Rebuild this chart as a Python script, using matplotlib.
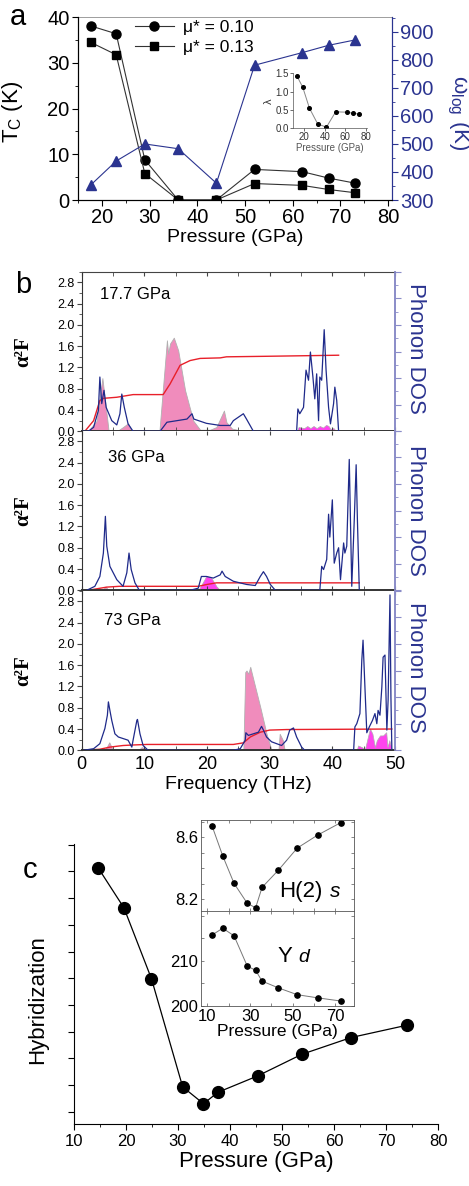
import numpy as np
import matplotlib
matplotlib.use('Agg')
import matplotlib.pyplot as plt
from matplotlib.lines import Line2D
from matplotlib.ticker import MultipleLocator, FormatStrFormatter, NullFormatter

plt.rcParams['font.family'] = ['Liberation Sans', 'DejaVu Sans']
plt.rcParams['mathtext.default'] = 'regular'

# ---------------- data: panel a ----------------
pressure_a = [17.7, 23, 29, 36, 44, 52, 62, 67.5, 73]
tc_mu010 = [38.1, 36.4, 8.8, 0, 0, 6.7, 6.2, 4.8, 3.7]
tc_mu013 = [34.5, 31.8, 5.8, 0, 0, 3.6, 3.2, 2.3, 1.6]
omega_log = [354, 439, 500, 483, 360, 781, 826, 852, 871]
lam_p = [13, 18.5, 25, 33, 41.5, 50.5, 61.5, 67.5, 73]
lam_v = [1.42, 1.12, 0.55, 0.12, 0.03, 0.45, 0.44, 0.41, 0.39]

# ---------------- data: panel b ----------------
dos17_f = [0, 1.06, 1.9, 2.66, 2.9, 3.2, 3.56, 3.9, 4.8, 5.6, 6.1, 6.4, 6.8, 7.4, 8.2, 12.5, 13.6, 15.2,
           16.8, 17.6, 17.9, 19.9, 22.1, 23.7, 24.2, 25.8, 26.3, 27.4, 34.3, 34.5, 34.8, 35.4, 35.8, 36.2,
           36.5, 36.9, 37.2, 37.5, 37.8, 38.0, 38.3, 38.7, 39.0, 39.4, 39.7, 40.2, 40.4, 40.7, 41.0]
dos17_v = [0, 0, 0.075, 0.39, 1.02, 0.52, 0.77, 0.45, 0.2, 0.12, 0.33, 0.7, 0.45, 0.14, 0, 0, 0.17, 0.2,
           0.23, 0.33, 0.23, 0.15, 0.11, 0.11, 0.2, 0.33, 0.23, 0, 0, 0.42, 0.33, 0.45, 1.15, 0.96,
           1.49, 1.02, 0.61, 1.08, 0.2, 1.02, 0.96, 1.91, 1.15, 0.45, 0.14, 0.52, 0.83, 0.58, 0]
pink17_f = [1.0, 2.4, 2.9, 3.3, 3.8, 4.3, 4.8, 5.2, 5.6, 6.6, 7.4, 8.0, 12.4, 13.6, 13.8, 14.1, 14.7,
            15.4, 16.5, 17.8, 18.9, 20.5, 21.5, 22.7, 23.1, 24.0, 26.0]
pink17_v = [0, 0.2, 0.64, 1.0, 0.5, 0, 0.03, 0.02, 0, 0.08, 0.15, 0, 0, 1.71, 1.46, 1.65, 1.76,
            1.52, 0.77, 0.2, 0.03, 0.03, 0.08, 0.39, 0.17, 0.05, 0]
mag17_f = [34.4, 34.6, 35.5, 36.0, 36.5, 37.0, 37.5, 38.0, 38.5, 39.0, 39.4, 39.7, 40.2, 40.6]
mag17_v = [0, 0.08, 0.06, 0.1, 0.06, 0.1, 0.06, 0.1, 0.07, 0.12, 0.1, 0.04, 0.06, 0]
red17_f = [0.5, 1.9, 2.9, 3.5, 5.6, 8.2, 13.0, 14.1, 15.7, 17.3, 18.9, 22.1, 23.1, 29.5, 41.0]
red17_v = [0, 0.2, 0.58, 0.62, 0.64, 0.69, 0.69, 0.89, 1.24, 1.33, 1.37, 1.38, 1.4, 1.41, 1.43]

dos36_f = [0.8, 2.1, 2.9, 3.46, 3.78, 4.0, 4.5, 5.6, 6.6, 7.2, 7.55, 7.9, 8.5, 9.2, 17.3, 18.6, 19.1,
           19.9, 21.0, 22.1, 22.4, 22.9, 24.2, 26.3, 27.7, 28.5, 29.0, 29.5, 30.1, 30.9, 38.0, 38.3,
           38.6, 39.1, 39.4, 39.6, 40.0, 40.3, 40.7, 41.0, 41.3, 41.8, 42.0, 42.3, 42.7, 43.1, 43.5,
           43.8, 44.0, 44.3]
dos36_v = [0, 0.075, 0.26, 0.7, 1.39, 0.83, 0.45, 0.2, 0.075, 0.33, 0.7, 0.39, 0.14, 0, 0, 0.04, 0.26,
           0.26, 0.23, 0.29, 0.36, 0.26, 0.17, 0.11, 0.09, 0.26, 0.35, 0.26, 0.11, 0, 0, 0.45,
           0.39, 0.58, 1.43, 1.0, 1.7, 0.51, 0.7, 0.8, 0.2, 0.89, 0.7, 0.83, 2.46, 0.075, 1.33,
           2.36, 1.33, 0]
pink36_f = [3.3, 3.8, 4.3, 25.9, 26.3, 26.7, 40.0, 40.5, 41.0, 42.5, 43.0, 43.5]
pink36_v = [0, 0.07, 0, 0, 0.03, 0, 0, 0.03, 0, 0, 0.03, 0]
mag36_f = [18.6, 19.1, 19.9, 20.7, 21.5, 22.1]
mag36_v = [0, 0.1, 0.27, 0.23, 0.075, 0]
red36_f = [1.0, 4.0, 6.0, 18.6, 20.0, 21.5, 44.3]
red36_v = [0, 0.06, 0.075, 0.075, 0.11, 0.14, 0.14]

dos73_f = [0.27, 1.9, 2.9, 3.7, 4.1, 4.26, 4.5, 4.8, 5.3, 5.85, 7.4, 8.0, 8.2, 8.8, 8.9, 9.3, 9.8, 10.6,
           24.2, 25.3, 26.1, 26.2, 26.6, 27.4, 28.2, 28.7, 29.0, 29.5, 30.3, 31.1, 31.9, 32.7, 33.2,
           33.8, 34.3, 35.1, 35.6, 43.4, 43.6, 43.9, 44.4, 44.7, 44.9, 45.2, 45.5, 45.9, 46.4, 46.8,
           47.1, 47.3, 47.6, 47.9, 48.1, 48.4, 48.7, 48.9, 49.2, 49.35, 49.5]
dos73_v = [0, 0.03, 0.125, 0.41, 0.66, 0.91, 0.75, 0.56, 0.31, 0.25, 0.19, 0.06, 0.19, 0.56, 0.58, 0.31,
           0.09, 0, 0, 0.03, 0.19, 0.33, 0.28, 0.31, 0.34, 0.45, 0.38, 0.25, 0.16, 0.125, 0.09, 0.19,
           0.38, 0.42, 0.25, 0.06, 0, 0, 0.44, 0.5, 0.69, 1.69, 2.07, 1.19, 0.33, 0.44, 0.56, 0.69,
           0.5, 0.75, 0.66, 1.19, 1.75, 1.79, 0.38, 0.94, 2.92, 1.0, 0]
pink73_f = [3.6, 4.0, 4.4, 5.0, 9.0, 9.6, 10.1, 10.5, 25.8, 26.1, 26.3, 26.6, 26.9, 27.1, 28.5, 29.5,
            30.3, 31.4, 31.6, 32.1, 32.4]
pink73_v = [0, 0.06, 0.15, 0, 0, 0.06, 0.03, 0, 0, 1.47, 1.5, 1.44, 1.57, 1.47, 0.81, 0.31, 0, 0,
            0.31, 0.19, 0]
mag73_f = [43.9, 44.1, 44.7, 45.2, 46.0, 46.4, 46.8, 47.1, 47.6, 48.1, 48.6, 48.8, 49.1, 49.5]
mag73_v = [0, 0.09, 0.06, 0.02, 0.41, 0.31, 0.06, 0.19, 0.28, 0.28, 0.34, 0.06, 0.19, 0]
red73_f = [0.27, 2.9, 4.5, 6.6, 8.2, 10.4, 24.2, 25.8, 26.9, 28.5, 30.0, 32.7, 49.5]
red73_v = [0, 0.02, 0.06, 0.09, 0.1, 0.11, 0.11, 0.14, 0.25, 0.34, 0.38, 0.39, 0.4]

b_labels = ['17.7 GPa', '36 GPa', '73 GPa']

# ---------------- data: panel c ----------------
hyb_p = [14.7, 19.6, 24.9, 30.9, 34.9, 37.7, 45.3, 53.8, 63.3, 74.0]
hyb_v = [9.12, 7.64, 4.98, 0.93, 0.3, 0.73, 1.34, 2.15, 2.78, 3.24]
ins_p = [12.2, 17.2, 22.5, 28.7, 32.6, 35.6, 43.3, 52.1, 61.7, 72.5]
h2s_v = [8.673, 8.480, 8.303, 8.174, 8.146, 8.277, 8.389, 8.531, 8.615, 8.695]
yd_v = [215.7, 217.2, 215.5, 208.8, 207.9, 205.5, 204.0, 202.5, 201.8, 201.1]

# ---------------- figure ----------------
W, H = 469, 1186
fig = plt.figure(figsize=(W / 100, H / 100), dpi=100)


def box(l, t, r, b):
    return [l / W, 1 - b / H, (r - l) / W, (b - t) / H]


BLUE = '#2b3490'
NAVY = '#1f2a8a'

# ---------- panel a ----------
axA = fig.add_axes(box(78, 17.3, 392, 200))
axA.plot(pressure_a, tc_mu010, '-', color='#333333', lw=0.8, marker='o', ms=6.5,
         mfc='k', mec='k', zorder=3)
axA.plot(pressure_a, tc_mu013, '-', color='#333333', lw=0.8, marker='s', ms=6,
         mfc='k', mec='k', zorder=3)
axA.set_xlim(15, 80.8)
axA.set_ylim(0, 40)
axA.xaxis.set_major_locator(MultipleLocator(10))
axA.xaxis.set_minor_locator(MultipleLocator(5))
axA.yaxis.set_major_locator(MultipleLocator(10))
axA.yaxis.set_minor_locator(MultipleLocator(5))
axA.tick_params(which='both', direction='out', labelsize=14.5, pad=2)
axA.tick_params(which='major', length=4)
axA.tick_params(which='minor', length=2)
axA.set_xlabel('Pressure (GPa)', fontsize=14, labelpad=1)
axA.set_ylabel('T$_{C}$ (K)', fontsize=16)
axA.yaxis.set_label_coords(-0.17, 0.48)
axA.spines['top'].set_linewidth(0.5)
axA.spines['top'].set_color('#777777')
axA.spines['right'].set_color(BLUE)

axA2 = axA.twinx()
axA2.plot(pressure_a, omega_log, '-', color=BLUE, lw=0.8, marker='^', ms=6.5,
          mfc=BLUE, mec=BLUE)
axA2.set_ylim(300, 952)
axA2.yaxis.set_major_locator(MultipleLocator(100))
axA2.yaxis.set_minor_locator(MultipleLocator(50))
axA2.tick_params(which='both', direction='out', labelsize=14.5, colors=BLUE, pad=2)
axA2.tick_params(which='major', length=4)
axA2.tick_params(which='minor', length=2)
axA2.spines['right'].set_color(BLUE)
axA2.spines['top'].set_visible(False)
axA2.text(1.21, 0.48, '\u03c9$_{log}$ (K)', transform=axA.transAxes, rotation=270,
          ha='center', va='center', fontsize=16, color=BLUE)

handles = [Line2D([], [], color='#333333', lw=0.8, marker='o', ms=6.5, mfc='k', mec='k'),
           Line2D([], [], color='#333333', lw=0.8, marker='s', ms=6, mfc='k', mec='k')]
axA.legend(handles, ['\u03bc* = 0.10', '\u03bc* = 0.13'], loc='upper left',
           bbox_to_anchor=(0.18, 0.985), frameon=False, fontsize=12.5, handlelength=2.3,
           handletextpad=0.5, labelspacing=0.25, borderpad=0, borderaxespad=0)

fig.text(10 / W, 1 - 25 / H, 'a', fontsize=21, va='baseline')

# inset lambda
axL = fig.add_axes(box(293, 73.4, 367, 128.3))
axL.plot(lam_p, lam_v, '-', color='#888888', lw=0.7, marker='o', ms=2.6, mfc='k', mec='k')
axL.set_xlim(9, 81)
axL.set_ylim(0, 1.5)
axL.set_xticks([20, 40, 60, 80])
axL.set_yticks([0.0, 0.5, 1.0, 1.5])
axL.yaxis.set_major_formatter(FormatStrFormatter('%.1f'))
axL.tick_params(labelsize=7, length=2, pad=1, colors='#333333', width=0.5)
for s in ['top', 'right']:
    axL.spines[s].set_visible(False)
for s in ['left', 'bottom']:
    axL.spines[s].set_linewidth(0.5)
    axL.spines[s].set_color('#555555')
axL.set_xlabel('Pressure (GPa)', fontsize=7, color='#555555', labelpad=0.5)
axL.set_ylabel('\u03bb', fontsize=8, color='#333333', labelpad=1)
axL.patch.set_alpha(0)

# ---------- panel b ----------
b_data = [(dos17_f, dos17_v, pink17_f, pink17_v, mag17_f, mag17_v, red17_f, red17_v),
          (dos36_f, dos36_v, pink36_f, pink36_v, mag36_f, mag36_v, red36_f, red36_v),
          (dos73_f, dos73_v, pink73_f, pink73_v, mag73_f, mag73_v, red73_f, red73_v)]
b_tops = [271.7, 430.7, 590.7]
b_txt = [(2.9, 2.49), (4.25, 2.42), (3.55, 2.35)]
b_dos_lab_y = [0.52, 0.5, 0.52]
for i, (df, dv, pf, pv, mf, mv, rf, rv) in enumerate(b_data):
    top = b_tops[i]
    ax = fig.add_axes(box(81.7, top, 395, top + 159.6))
    ax.fill_between(pf, pv, color='#f08cbc', edgecolor='#b0b0b0', lw=0.6, zorder=1)
    ax.fill_between(mf, mv, color='#ff44ee', edgecolor='#b0b0b0', lw=0.5, zorder=1)
    ax.plot(rf, rv, color='#e8202a', lw=1.0, zorder=2)
    ax.plot(df, dv, color=NAVY, lw=0.9, zorder=3)
    ax.set_xlim(0, 50)
    ax.set_ylim(0, 3.0)
    ax.set_yticks(np.arange(0, 2.81, 0.4))
    ax.yaxis.set_minor_locator(MultipleLocator(0.2))
    ax.yaxis.set_major_formatter(FormatStrFormatter('%.1f'))
    ax.xaxis.set_major_locator(MultipleLocator(10))
    ax.xaxis.set_minor_locator(MultipleLocator(5))
    ax.tick_params(axis='x', which='both', direction='in', top=True, bottom=True,
                   labelsize=13, length=3, pad=4, color='#444444')
    ax.tick_params(axis='y', which='both', direction='out', right=False, labelsize=9,
                   pad=1.5, color='#444444')
    ax.tick_params(axis='y', which='major', length=3.5)
    ax.tick_params(axis='y', which='minor', length=2)
    if i < 2:
        ax.tick_params(axis='x', labelbottom=False)
    else:
        ax.set_xlabel('Frequency (THz)', fontsize=14, labelpad=2)
    ax.spines['bottom'].set_linewidth(1.4)
    ax.spines['bottom'].set_color('#333333')
    ax.spines['top'].set_linewidth(0.8 if i == 0 else 0)
    ax.spines['top'].set_color('#444444')
    ax.spines['left'].set_color('#333333')
    ax.spines['right'].set_color('#8a8cc8')
    ax.spines['right'].set_linewidth(1.2)
    ax.set_ylabel('\u03b1\u00b2F', fontsize=15, family=['Liberation Serif', 'DejaVu Serif'],
                  fontweight='bold')
    ax.yaxis.set_label_coords(-0.155, 0.5)
    ax.text(b_txt[i][0], b_txt[i][1], b_labels[i], fontsize=12, va='baseline')
    axr = ax.twinx()
    axr.set_ylim(0, 6)
    axr.yaxis.set_major_locator(MultipleLocator(1))
    axr.yaxis.set_minor_locator(MultipleLocator(0.5))
    axr.tick_params(axis='y', which='both', direction='out', labelright=False,
                    color='#8a8cc8')
    axr.tick_params(axis='y', which='major', length=4)
    axr.tick_params(axis='y', which='minor', length=2)
    for s in ['top', 'bottom', 'left']:
        axr.spines[s].set_visible(False)
    axr.spines['right'].set_color('#8a8cc8')
    axr.spines['right'].set_linewidth(1.2)
    axr.text(1.066, b_dos_lab_y[i], 'Phonon DOS', transform=ax.transAxes, rotation=270,
             ha='center', va='center', fontsize=16, color=BLUE)

fig.text(15 / W, 1 - 293 / H, 'b', fontsize=21, va='baseline')

# ---------- panel c ----------
axC = fig.add_axes(box(74, 844, 438, 1124))
axC.plot(hyb_p, hyb_v, '-', color='k', lw=0.9, marker='o', ms=8.5, mfc='k', mec='k')
axC.set_xlim(10, 80)
axC.set_ylim(-0.46, 10.03)
axC.xaxis.set_major_locator(MultipleLocator(10))
axC.xaxis.set_minor_locator(MultipleLocator(5))
axC.yaxis.set_major_locator(MultipleLocator(1))
axC.yaxis.set_major_formatter(NullFormatter())
axC.tick_params(which='both', direction='out', labelsize=12, pad=3)
axC.tick_params(which='major', length=4)
axC.tick_params(which='minor', length=2)
axC.spines['top'].set_visible(False)
axC.spines['right'].set_visible(False)
axC.set_xlabel('Pressure (GPa)', fontsize=16, labelpad=2)
axC.set_ylabel('Hybridization', fontsize=16)
axC.yaxis.set_label_coords(-0.07, 0.446)
fig.text(23 / W, 1 - 878 / H, 'c', fontsize=21, va='baseline')

axI1 = fig.add_axes(box(201, 820, 354, 911))
axI1.plot(ins_p, h2s_v, '-', color='#777777', lw=0.7, marker='o', ms=3.8, mfc='k', mec='k')
axI1.set_xlim(7, 78.7)
axI1.set_ylim(8.125, 8.712)
axI1.set_yticks([8.2, 8.6])
axI1.yaxis.set_minor_locator(MultipleLocator(0.1))
axI1.set_xticks([10, 30, 50, 70])
axI1.xaxis.set_minor_locator(MultipleLocator(10))
axI1.tick_params(which='both', direction='in', top=True, right=True, labelbottom=False,
                 labelsize=12, length=2.5, width=0.5, pad=2, color='#555555')

axI2 = fig.add_axes(box(201, 911, 354, 1006))
axI2.plot(ins_p, yd_v, '-', color='#777777', lw=0.7, marker='o', ms=3.8, mfc='k', mec='k')
axI2.set_xlim(7, 78.7)
axI2.set_ylim(200, 221)
axI2.set_yticks([200, 210])
axI2.yaxis.set_minor_locator(MultipleLocator(5))
axI2.set_xticks([10, 30, 50, 70])
axI2.xaxis.set_minor_locator(MultipleLocator(10))
axI2.tick_params(which='both', direction='in', top=True, right=True,
                 labelsize=12, length=2.5, width=0.5, pad=2, color='#555555')
axI2.set_xlabel('Pressure (GPa)', fontsize=12.5, labelpad=0)
for a_ in (axI1, axI2):
    for s in a_.spines.values():
        s.set_linewidth(0.6)
        s.set_color('#555555')

fig.text(279 / W, 1 - 896.7 / H, 'H(2)', fontsize=16, va='baseline')
fig.text(330 / W, 1 - 896.7 / H, 's', fontsize=15, style='italic', va='baseline')
fig.text(278 / W, 1 - 961.7 / H, 'Y', fontsize=16, va='baseline')
fig.text(298 / W, 1 - 961.7 / H, 'd', fontsize=14, style='italic', va='baseline')

fig.savefig('out.png', dpi=100)
